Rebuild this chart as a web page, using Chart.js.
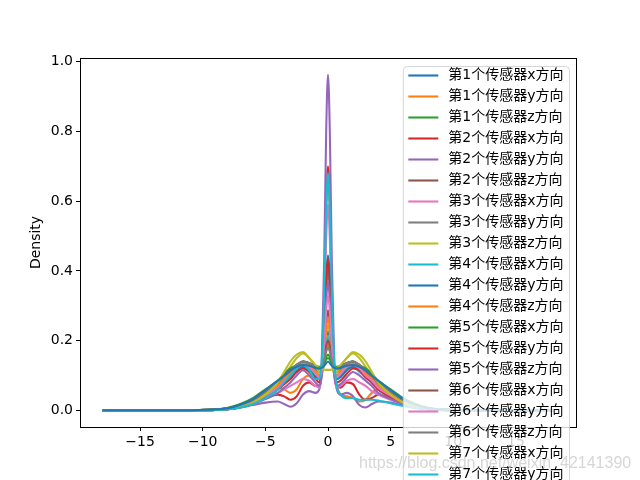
<!DOCTYPE html>
<html>
<head>
<meta charset="utf-8">
<script src="https://cdn.jsdelivr.net/npm/chart.js@4"></script>
<style>
  body { margin: 0; background: #fff; }
  canvas { display: block; }
</style>
</head>
<body>
<canvas id="grafico" width="640" height="480"></canvas>
<script>
// pontos em x onde a densidade foi lida
const xGrid = [-18, -12, -9, -8, -7, -6, -5, -4, -3.5, -3, -2.5, -2, -1.5, -1, -0.7, -0.5, -0.3, -0.15, 0,
  0.15, 0.3, 0.5, 0.7, 1, 1.5, 2, 2.5, 3, 3.5, 4, 5, 6, 7, 8, 9, 12, 18];

const seriesLabels = [
  "第1个传感器x方向", "第1个传感器y方向", "第1个传感器z方向",
  "第2个传感器x方向", "第2个传感器y方向", "第2个传感器z方向",
  "第3个传感器x方向", "第3个传感器y方向", "第3个传感器z方向",
  "第4个传感器x方向", "第4个传感器y方向", "第4个传感器z方向",
  "第5个传感器x方向", "第5个传感器y方向", "第5个传感器z方向",
  "第6个传感器x方向", "第6个传感器y方向", "第6个传感器z方向",
  "第7个传感器x方向", "第7个传感器y方向", "第7个传感器z方向"
];

// densidades
const d1x = [0,0,0.002,0.005,0.013,0.028,0.05,0.075,0.095,0.11,0.125,0.14,0.135,0.118,0.11, 0.121,0.16,0.205, 0.227, 0.205,0.16,0.121, 0.11,0.118,0.135,0.14,0.125,0.11,0.095,0.075,0.05,0.028,0.013,0.005,0.002,0,0];
const d1y = [0,0,0.001,0.004,0.012,0.028,0.05,0.065,0.06,0.05,0.06,0.09,0.10,0.09,0.09, 0.102,0.135,0.172, 0.19, 0.172,0.135,0.102, 0.07,0.045,0.04,0.035,0.025,0.03,0.05,0.06,0.045,0.025,0.012,0.005,0.002,0,0];
const d1z = [0,0,0.002,0.007,0.018,0.035,0.06,0.085,0.10,0.115,0.125,0.13,0.128,0.122,0.12, 0.124,0.137,0.152, 0.16, 0.152,0.137,0.124, 0.12,0.122,0.128,0.13,0.125,0.115,0.10,0.085,0.06,0.035,0.018,0.007,0.002,0,0];
const d2x = [0,0,0.001,0.004,0.01,0.02,0.035,0.045,0.04,0.03,0.04,0.07,0.08,0.07,0.07, 0.12,0.333,0.577, 0.70, 0.577,0.333,0.12, 0.07,0.065,0.08,0.075,0.045,0.03,0.035,0.045,0.035,0.02,0.01,0.004,0.001,0,0];
const d2y = [0,0,0.001,0.003,0.008,0.015,0.022,0.025,0.018,0.01,0.02,0.045,0.055,0.05,0.06, 0.136,0.44,0.79, 0.963, 0.79,0.44,0.136, 0.06,0.045,0.05,0.04,0.015,0.008,0.018,0.025,0.022,0.014,0.007,0.003,0.001,0,0];
const d2z = [0,0,0.002,0.005,0.013,0.028,0.05,0.075,0.095,0.11,0.125,0.135,0.13,0.11,0.10, 0.118,0.18,0.251, 0.287, 0.251,0.18,0.118, 0.10,0.11,0.13,0.135,0.125,0.11,0.095,0.075,0.05,0.028,0.013,0.005,0.002,0,0];
const d3x = [0,0,0.001,0.003,0.009,0.02,0.035,0.05,0.06,0.07,0.08,0.09,0.085,0.07,0.065, 0.11,0.286,0.488, 0.59, 0.488,0.286,0.11, 0.065,0.07,0.085,0.09,0.08,0.07,0.055,0.045,0.03,0.018,0.008,0.003,0.001,0,0];
const d3y = [0,0,0.001,0.004,0.011,0.024,0.045,0.07,0.09,0.105,0.12,0.13,0.12,0.10,0.09, 0.119,0.222,0.34, 0.40, 0.34,0.222,0.119, 0.09,0.10,0.12,0.13,0.12,0.105,0.09,0.07,0.045,0.024,0.011,0.004,0.001,0,0];
const d3z = [0,0,0.001,0.004,0.01,0.022,0.045,0.075,0.10,0.125,0.15,0.163,0.15,0.125,0.11, 0.123,0.167,0.218, 0.244, 0.218,0.167,0.123, 0.11,0.125,0.15,0.163,0.15,0.125,0.10,0.075,0.045,0.022,0.01,0.004,0.001,0,0];
const d4x = [0,0,0.001,0.003,0.009,0.02,0.038,0.06,0.08,0.095,0.11,0.125,0.12,0.105,0.10, 0.11,0.147,0.189, 0.21, 0.189,0.147,0.11, 0.10,0.105,0.12,0.125,0.11,0.095,0.08,0.06,0.038,0.02,0.009,0.003,0.001,0,0];
const d4y = [0,0,0.001,0.004,0.01,0.022,0.04,0.065,0.085,0.10,0.115,0.125,0.115,0.095,0.09, 0.123,0.242,0.377, 0.445, 0.377,0.242,0.123, 0.09,0.095,0.115,0.125,0.115,0.10,0.085,0.065,0.04,0.022,0.01,0.004,0.001,0,0];
const d4z = [0,0,0.001,0.004,0.011,0.025,0.047,0.072,0.09,0.105,0.12,0.135,0.13,0.112,0.10, 0.115,0.17,0.233, 0.264, 0.233,0.17,0.115, 0.10,0.112,0.13,0.135,0.12,0.105,0.09,0.072,0.047,0.025,0.011,0.004,0.001,0,0];
const d5x = [0,0,0.002,0.006,0.016,0.032,0.058,0.085,0.105,0.12,0.13,0.14,0.135,0.128,0.125, 0.127,0.136,0.145, 0.15, 0.145,0.136,0.127, 0.125,0.128,0.135,0.14,0.13,0.12,0.105,0.085,0.058,0.032,0.016,0.006,0.002,0,0];
const d5y = [0,0,0.001,0.003,0.009,0.02,0.038,0.06,0.075,0.09,0.11,0.12,0.11,0.09,0.08, 0.114,0.232,0.368, 0.437, 0.368,0.232,0.114, 0.08,0.085,0.105,0.12,0.115,0.095,0.08,0.06,0.038,0.02,0.009,0.003,0.001,0,0];
const d5z = [0,0,0.001,0.003,0.008,0.018,0.032,0.05,0.065,0.08,0.10,0.115,0.10,0.08,0.07, 0.098,0.198,0.312, 0.369, 0.312,0.198,0.098, 0.07,0.075,0.095,0.11,0.10,0.085,0.07,0.05,0.032,0.018,0.008,0.003,0.001,0,0];
const d6x = [0,0,0.002,0.006,0.015,0.03,0.055,0.08,0.10,0.115,0.13,0.14,0.135,0.125,0.12, 0.128,0.154,0.185, 0.20, 0.185,0.154,0.128, 0.12,0.125,0.135,0.14,0.13,0.115,0.10,0.08,0.055,0.03,0.015,0.006,0.002,0,0];
const d6y = [0,0,0.001,0.004,0.01,0.022,0.042,0.065,0.085,0.10,0.12,0.13,0.125,0.105,0.095, 0.113,0.192,0.284, 0.33, 0.284,0.192,0.113, 0.095,0.105,0.125,0.13,0.12,0.10,0.085,0.065,0.042,0.022,0.01,0.004,0.001,0,0];
const d6z = [0,0,0.002,0.005,0.014,0.03,0.055,0.08,0.10,0.115,0.13,0.14,0.135,0.125,0.12, 0.126,0.146,0.168, 0.18, 0.168,0.146,0.126, 0.12,0.125,0.135,0.14,0.13,0.115,0.10,0.08,0.055,0.03,0.014,0.005,0.002,0,0];
const d7x = [0,0,0.001,0.004,0.01,0.022,0.045,0.08,0.11,0.14,0.16,0.167,0.15,0.13,0.12, 0.118,0.117,0.116, 0.116, 0.116,0.117,0.118, 0.12,0.13,0.15,0.167,0.16,0.14,0.11,0.08,0.045,0.022,0.01,0.004,0.001,0,0];
const d7y = [0,0,0.001,0.003,0.008,0.018,0.035,0.06,0.08,0.10,0.12,0.13,0.115,0.09,0.09, 0.145,0.342,0.567, 0.68, 0.567,0.342,0.145, 0.07,0.045,0.035,0.035,0.03,0.03,0.03,0.028,0.02,0.012,0.006,0.002,0.001,0,0];
const d7z = [0,0,0.002,0.006,0.016,0.032,0.058,0.085,0.10,0.115,0.125,0.13,0.128,0.122,0.12, 0.122,0.128,0.135, 0.14, 0.135,0.128,0.122, 0.12,0.122,0.128,0.13,0.125,0.115,0.10,0.085,0.058,0.032,0.016,0.006,0.002,0,0];

const seriesValues = [d1x, d1y, d1z, d2x, d2y, d2z, d3x, d3y, d3z, d4x, d4y, d4z, d5x, d5y, d5z, d6x, d6y, d6z, d7x, d7y, d7z];

const xTicks = [-15, -10, -5, 0, 5, 10, 15];
const yTicks = [0.0, 0.2, 0.4, 0.6, 0.8, 1.0];

// cores padrão do matplotlib (tab10)
const cores = ["#1f77b4", "#ff7f0e", "#2ca02c", "#d62728", "#9467bd",
  "#8c564b", "#e377c2", "#7f7f7f", "#bcbd22", "#17becf"];

const fonte = '"DejaVu Sans", "Noto Sans CJK SC", sans-serif';
const espessura = 2.08; // 1.5pt a 100 dpi

const datasets = seriesValues.map((vals, i) => ({
  label: seriesLabels[i],
  data: xGrid.map((x, j) => ({ x: x, y: vals[j] })),
  borderColor: cores[i % 10],
  borderWidth: espessura,
  pointRadius: 0,
  fill: false,
  cubicInterpolationMode: "monotone",
  order: seriesValues.length - i // a última série fica por cima, como no matplotlib
}));

// moldura completa (spines)
const molduraPlugin = {
  id: "moldura",
  afterDatasetsDraw(chart) {
    const { ctx, chartArea: a } = chart;
    ctx.save();
    ctx.strokeStyle = "#000";
    ctx.lineWidth = 1;
    ctx.strokeRect(a.left + 0.5, a.top + 0.5, a.right - a.left, a.bottom - a.top);
    ctx.restore();
  }
};

// legenda no estilo matplotlib (transborda a figura, como no original)
const legendaPlugin = {
  id: "legenda",
  afterDraw(chart) {
    const ctx = chart.ctx;
    const dss = chart.data.datasets;
    ctx.save();
    ctx.font = "14px " + fonte;
    let maxW = 0;
    dss.forEach(ds => { maxW = Math.max(maxW, ctx.measureText(ds.label).width); });
    const right = 569.5, top = 66.5, rowH = 21;
    const w = 5 + 30 + 10 + maxW + 6;
    const left = right - w;
    const h = 8 + rowH * dss.length;
    ctx.beginPath();
    ctx.roundRect(left, top, w, h, 4);
    ctx.fillStyle = "rgba(255,255,255,0.8)";
    ctx.fill();
    ctx.strokeStyle = "rgba(204,204,204,0.8)";
    ctx.lineWidth = 1;
    ctx.stroke();

    ctx.textBaseline = "middle";
    ctx.fillStyle = "#000";
    dss.forEach((ds, i) => {
      const y = top + 9 + rowH * i;
      ctx.beginPath();
      ctx.moveTo(left + 5, y);
      ctx.lineTo(left + 35, y);
      ctx.strokeStyle = ds.borderColor;
      ctx.lineWidth = espessura;
      ctx.stroke();
      ctx.fillText(ds.label, left + 45, y);
    });

    // marca d'água do blog
    ctx.font = '16px "Liberation Sans", sans-serif';
    ctx.fillStyle = "rgba(200,200,200,0.75)";
    ctx.textBaseline = "alphabetic";
    ctx.fillText("https://blog.csdn.net/weixin_42141390", 359, 468);
    ctx.restore();
  }
};

const ctx = document.getElementById("grafico").getContext("2d");

new Chart(ctx, {
  type: "line",
  data: { datasets: datasets },
  options: {
    responsive: false,
    animation: false,
    layout: { padding: { left: 0, right: 64, top: 58, bottom: 0 } },
    plugins: {
      legend: { display: false },
      tooltip: { enabled: false }
    },
    scales: {
      x: {
        type: "linear",
        min: -19.8,
        max: 19.8,
        afterBuildTicks: s => { s.ticks = xTicks.map(v => ({ value: v })); },
        afterFit: s => { s.height = 53; },
        ticks: {
          color: "#000",
          font: { family: fonte, size: 14 },
          padding: 3,
          maxRotation: 0,
          callback: v => String(v).replace("-", "\u2212")
        },
        grid: { drawOnChartArea: false, tickLength: 4, color: "#000" },
        border: { color: "#000" }
      },
      y: {
        type: "linear",
        min: -0.048,
        max: 1.011,
        afterBuildTicks: s => { s.ticks = yTicks.map(v => ({ value: v })); },
        afterFit: s => { s.width = 80; },
        ticks: {
          color: "#000",
          font: { family: fonte, size: 14 },
          padding: 3,
          callback: v => Number(v).toFixed(1)
        },
        grid: { drawOnChartArea: false, tickLength: 4, color: "#000" },
        border: { color: "#000" },
        title: {
          display: true,
          text: "Density",
          color: "#000",
          font: { family: fonte, size: 14 },
          padding: { top: 28, bottom: 0 }
        }
      }
    }
  },
  plugins: [molduraPlugin, legendaPlugin]
});
</script>
</body>
</html>
